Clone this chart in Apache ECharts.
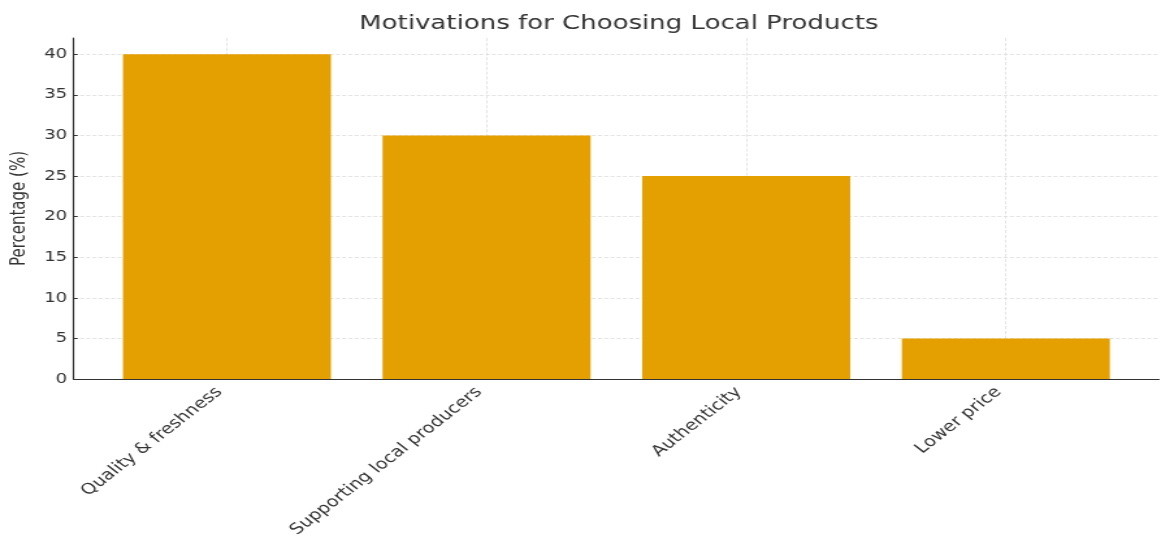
<!DOCTYPE html>
<html>
<head>
<meta charset="utf-8">
<script src="https://cdn.jsdelivr.net/npm/echarts@6/dist/echarts.min.js"></script>
<style>
html,body{margin:0;padding:0;background:#fff;overflow:hidden;}
#wrap{width:1161px;height:540px;overflow:hidden;}
#c{width:893px;height:540px;transform:scaleX(1.3001);transform-origin:0 0;}
</style>
</head>
<body>
<div id="wrap"><div id="c"></div></div>
<script>
const categories = ["Quality & freshness", "Supporting local producers", "Authenticity", "Lower price"];
const values = [40, 30, 25, 5];
const yTicks = [0, 5, 10, 15, 20, 25, 30, 35, 40];

const chart = echarts.init(document.getElementById('c'));
const font = 'DejaVu Sans';
const xIdx = categories.map((_, i) => i);
chart.setOption({
  animation: false,
  textStyle: { fontFamily: font },
  title: {
    text: 'Motivations for Choosing Local Products',
    left: 471, top: 9, textAlign: 'center',
    textStyle: { fontFamily: font, fontSize: 20, fontWeight: 'normal', color: '#333' }
  },
  grid: { left: 54.6, right: 1.5, top: 38, bottom: 158, containLabel: false },
  xAxis: {
    type: 'value', min: -0.59, max: 3.59,
    axisLine: { show: true, onZero: false, lineStyle: { color: '#333', width: 1.2 } },
    axisTick: { show: true, inside: true, length: 4, customValues: xIdx, lineStyle: { color: '#333' } },
    axisLabel: {
      customValues: xIdx, rotate: 45, margin: 5, fontSize: 15, color: '#333', fontFamily: font,
      padding: [0, 8, 0, 0],
      formatter: v => categories[Math.round(v)]
    },
    splitLine: { show: true, lineStyle: { color: '#ddd', type: 'dashed', width: 0.8 } }
  },
  yAxis: {
    type: 'value', min: 0, max: 42,
    name: 'Percentage (%)', nameLocation: 'middle', nameGap: 32, nameRotate: 90,
    nameTextStyle: { fontFamily: font, fontSize: 15, color: '#333' },
    axisLine: { show: true, onZero: false, lineStyle: { color: '#333', width: 1.2 } },
    axisTick: { show: true, inside: true, length: 3, customValues: yTicks, lineStyle: { color: '#333' } },
    axisLabel: { customValues: yTicks, fontSize: 14, color: '#333', margin: 5, fontFamily: font },
    splitLine: { show: true, lineStyle: { color: '#ddd', type: 'dashed', width: 0.8 } }
  },
  series: [{
    type: 'bar',
    data: values.map((v, i) => [i, v]),
    barWidth: 160,
    itemStyle: { color: '#E49F00' }
  }]
});
</script>
</body>
</html>
